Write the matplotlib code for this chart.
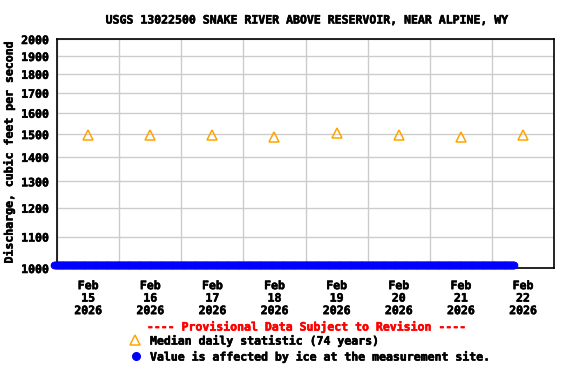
import numpy as np
import pandas as pd
import matplotlib
matplotlib.use('Agg')
import matplotlib.pyplot as plt
import matplotlib.patheffects as pe

# median daily statistic (74 years), plotted at noon of each day
median_days = ['2026-02-15', '2026-02-16', '2026-02-17', '2026-02-18',
               '2026-02-19', '2026-02-20', '2026-02-21', '2026-02-22']
median_cfs = [1495, 1495, 1495, 1485, 1505, 1495, 1485, 1495]

# ice-affected record (shown pinned near the bottom of the axis)
ice_start = '2026-02-14 23:00'
ice_end = '2026-02-22 08:30'
ice_cfs = 1010

y_ticks = [1000, 1100, 1200, 1300, 1400, 1500, 1600, 1700, 1800, 1900, 2000]

font = 'DejaVu Sans Mono'
fs = 8.3
bold = [pe.withStroke(linewidth=0.4, foreground='black')]

fig = plt.figure(figsize=(5.76, 3.84), dpi=100)
ax = fig.add_axes([57/576, 1-268/384, (554-57)/576, (268-39)/384])

ice_t = pd.date_range(ice_start, ice_end, freq='15min')
ax.plot(ice_t, [ice_cfs]*len(ice_t), color='#0000ff', lw=5.0, marker='o',
        ms=4.5, solid_capstyle='round', clip_on=False, zorder=3)

med_t = pd.to_datetime(median_days) + pd.Timedelta(hours=12)
ax.plot(med_t, median_cfs, ls='none', marker='^', ms=7, mfc='none',
        mec='#ffa500', mew=1.1, zorder=4)

ax.set_yscale('log')
ax.set_ylim(1000, 2000)
ax.set_yticks(y_ticks)
ax.set_yticklabels([str(v) for v in y_ticks], fontfamily=font,
                   fontweight='bold', fontsize=fs)
ax.yaxis.set_minor_locator(matplotlib.ticker.NullLocator())

x0 = pd.Timestamp('2026-02-15')
ax.set_xlim(x0, x0 + pd.Timedelta(days=8))
ax.set_xticks(pd.date_range(x0, periods=9, freq='D'))
ax.set_xticklabels([])
ax.set_xticks(med_t, minor=True)
ax.set_xticklabels([d.strftime('%b\n%d\n%Y') for d in med_t], minor=True,
                   fontfamily=font, fontweight='bold', fontsize=fs,
                   linespacing=0.95)
ax.tick_params(axis='both', which='both', length=0, pad=6)
ax.tick_params(axis='x', which='minor', pad=8)
for t in ax.get_xticklabels(minor=True) + ax.get_yticklabels():
    t.set_path_effects(bold)

ax.grid(True, which='major', color='#cccccc', lw=1)
ax.set_axisbelow(True)
for s in ax.spines.values():
    s.set_linewidth(1.2)

ax.set_ylabel('Discharge, cubic feet per second', fontfamily=font,
              fontweight='bold', fontsize=fs, labelpad=4, path_effects=bold)
fig.text(305/576, 1-20/384, 'USGS 13022500 SNAKE RIVER ABOVE RESERVOIR, NEAR ALPINE, WY',
         ha='center', va='center', fontfamily=font, fontweight='bold', fontsize=fs,
         path_effects=bold)

fig.text(305/576, 1-327/384, '---- Provisional Data Subject to Revision ----',
         ha='center', va='center', color='red', fontfamily=font,
         fontweight='bold', fontsize=fs,
         path_effects=[pe.withStroke(linewidth=0.4, foreground='red')])
fig.lines.append(plt.Line2D([135/576], [1-340/384], marker='^', ms=7, mfc='none',
                            mec='#ffa500', mew=1.1, transform=fig.transFigure))
fig.text(150/576, 1-341/384, 'Median daily statistic (74 years)', ha='left',
         va='center', fontfamily=font, fontweight='bold', fontsize=fs,
         path_effects=bold)
fig.lines.append(plt.Line2D([136/576], [1-356/384], marker='o', ms=5.5,
                            color='#0000ff', transform=fig.transFigure))
fig.text(150/576, 1-357/384, 'Value is affected by ice at the measurement site.',
         ha='left', va='center', fontfamily=font, fontweight='bold', fontsize=fs,
         path_effects=bold)

fig.savefig('out.png', dpi=100)
